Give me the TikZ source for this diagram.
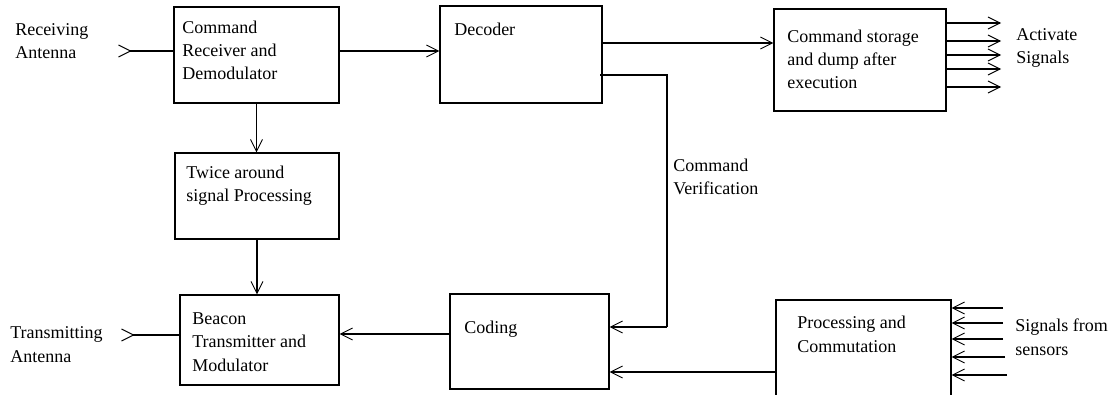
\documentclass[tikz,border=0pt]{standalone}
\usepackage{fontspec}
\setmainfont{Liberation Serif}
\usetikzlibrary{arrows.meta,fit,calc}
\tikzset{
  box/.style={draw, line width=0.8pt, inner sep=0pt, rectangle},
  lbl/.style={anchor=base west, align=left, inner sep=0pt, font=\fontsize{13.5}{17.3}\selectfont},
  conn/.style={line width=0.8pt},
  tipin/.style={conn, -{Straight Barb[length=9pt,width=9pt,line width=0.7pt]}},
  antin/.style={conn, {Straight Barb[reversed,length=9pt,width=9pt,line width=0.7pt]}-}
}
\begin{document}
\begin{tikzpicture}[x=0.75pt,y=-0.75pt]
\useasboundingbox (0,0) rectangle (1112,395);
% boxes
\node[box, fit={(174,7) (339,103)}] (rx) {};
\node[box, fit={(440,6) (602,103)}] (dec) {};
\node[box, fit={(774,9) (946,111)}] (sto) {};
\node[box, fit={(175,153) (339,239)}] (tw) {};
\node[box, fit={(180,295) (339,385)}] (bea) {};
\node[box, fit={(450,294) (609,389)}] (cod) {};
\node[box, fit={(776,300) (951,402)}] (pro) {};
% texts (anchored at the baseline of their last line)
\node[lbl] (trx) at (182,80) {Command\\Receiver and\\Demodulator};
\node[lbl] (tdec) at (454,36) {Decoder};
\node[lbl] (tsto) at (787,89) {Command storage\\and dump after\\execution};
\node[lbl] (ttw) at (186,202) {Twice around\\signal Processing};
\node[lbl] (tbea) at (192,371) {Beacon\\Transmitter and\\Modulator};
\node[lbl] (tcod) at (464,333) {Coding};
\node[lbl] (tpro) at (797,352) {Processing and\\Commutation};
\node[lbl] (lra) at (15,59) {Receiving\\Antenna};
\node[lbl] (lta) at (10,362) {Transmitting\\Antenna};
\node[lbl] (lcv) at (673,195) {Command\\Verification};
\node[lbl] (las) at (1016,64) {Activate\\Signals};
\node[lbl] (lss) at (1015,355) {Signals from\\sensors};
% coordinates
\coordinate (ant1) at (118,51);
\coordinate (ant2) at (121,335);
\coordinate (v1) at (667,75);
\coordinate (v2) at (667,327);
\coordinate (dout) at (600,75);
\coordinate (d1) at (0,43);
\coordinate (cb) at (0,334);
\coordinate (pc) at (0,372);
% connectors
\draw[antin] (ant1) -- (ant1 -| rx.west);
\draw[tipin] (rx.east |- ant1) -- (dec.west |- ant1);
\draw[tipin] (dec.east |- d1) -- (sto.west |- d1);
\draw[conn] (dout) -- (v1) -- (v2);
\draw[tipin] (v2) -- (v2 -| cod.east);
\draw[tipin] (rx.south) -- (rx.south |- tw.north);
\draw[tipin] (tw.south) -- (tw.south |- bea.north);
\draw[tipin] (cod.west |- cb) -- (bea.east |- cb);
\draw[antin] (ant2) -- (ant2 -| bea.west);
\draw[tipin] (pro.west |- pc) -- (cod.east |- pc);
\foreach \y in {23,41,55,69,87} {
  \coordinate (o) at (1001,\y);
  \draw[tipin] (sto.east |- o) -- (o);
}
\foreach \y/\x in {308/1003,323/1003,339/1003,357/1005,375/1007} {
  \coordinate (s) at (\x,\y);
  \draw[tipin] (s) -- (s -| pro.east);
}
\end{tikzpicture}
\end{document}
